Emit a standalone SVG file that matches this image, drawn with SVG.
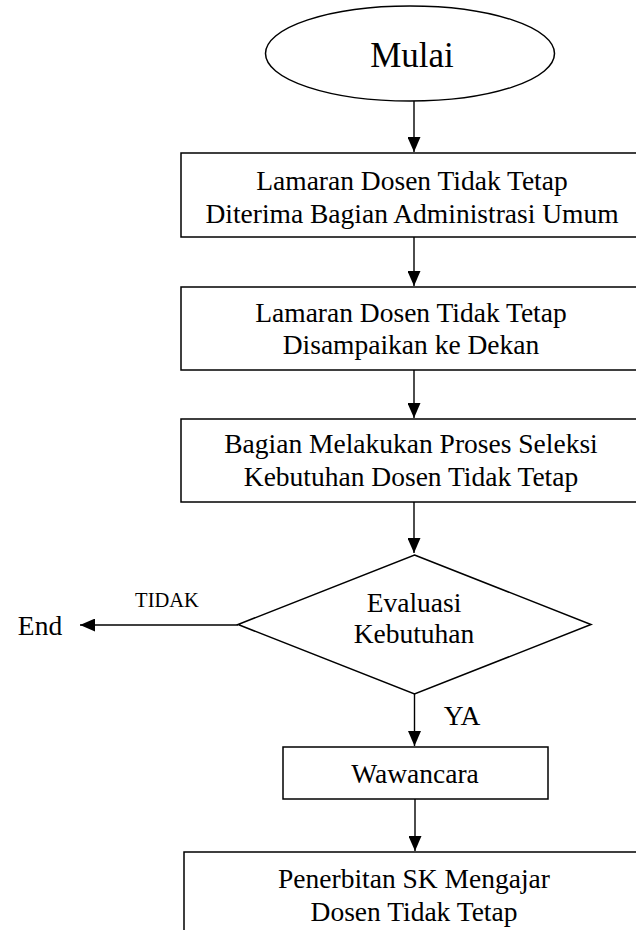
<svg xmlns="http://www.w3.org/2000/svg" width="636" height="930" viewBox="0 0 636 930">
<style>
.shape{fill:#fff;stroke:#000;stroke-width:1.5}
.t{font-family:"Liberation Serif","Times New Roman",serif;font-size:27.5px;fill:#000;text-anchor:middle}
.conn line{stroke:#000;stroke-width:1.4}
</style>
<defs>
<marker id="ah" markerWidth="15" markerHeight="13" refX="15" refY="6.5" viewBox="0 0 15 13" orient="auto" markerUnits="userSpaceOnUse">
<path d="M0,0 L15,6.5 L0,13 Z" fill="#000"/>
</marker>
</defs>
<rect width="636" height="930" fill="#fff"/>
<g id="mulai">
<ellipse class="shape" cx="410" cy="53.5" rx="144.5" ry="47.5"/>
<text class="t" x="412" y="67" style="font-size:35px">Mulai</text>
</g>
<g id="box1">
<rect class="shape" x="181" y="153" width="470" height="84"/>
<text class="t" x="412" y="190">Lamaran Dosen Tidak Tetap</text>
<text class="t" x="412" y="223">Diterima Bagian Administrasi Umum</text>
</g>
<g id="box2">
<rect class="shape" x="181" y="287" width="470" height="83"/>
<text class="t" x="411" y="322">Lamaran Dosen Tidak Tetap</text>
<text class="t" x="411" y="354">Disampaikan ke Dekan</text>
</g>
<g id="box3">
<rect class="shape" x="181" y="419" width="470" height="83"/>
<text class="t" x="411" y="453">Bagian Melakukan Proses Seleksi</text>
<text class="t" x="411" y="486">Kebutuhan Dosen Tidak Tetap</text>
</g>
<g id="evaluasi">
<polygon class="shape" points="414.5,555 591,624.5 414.5,694 238,624.5"/>
<text class="t" x="414" y="612">Evaluasi</text>
<text class="t" x="414" y="643">Kebutuhan</text>
</g>
<g id="end">
<text class="t" x="40" y="635">End</text>
</g>
<g id="wawancara">
<rect class="shape" x="283" y="747" width="265" height="52"/>
<text class="t" x="415" y="783">Wawancara</text>
</g>
<g id="penerbitan">
<rect class="shape" x="184" y="852" width="470" height="90"/>
<text class="t" x="414" y="888">Penerbitan SK Mengajar</text>
<text class="t" x="414" y="921">Dosen Tidak Tetap</text>
</g>
<g id="connectors" class="conn">
<line x1="414" y1="101" x2="414" y2="152" marker-end="url(#ah)"/>
<line x1="414" y1="237" x2="414" y2="286" marker-end="url(#ah)"/>
<line x1="414" y1="370" x2="414" y2="418" marker-end="url(#ah)"/>
<line x1="414" y1="502" x2="414" y2="553" marker-end="url(#ah)"/>
<line x1="238" y1="625" x2="80" y2="625" marker-end="url(#ah)"/>
<line x1="414.5" y1="694" x2="414.5" y2="746" marker-end="url(#ah)"/>
<line x1="415" y1="799" x2="415" y2="851" marker-end="url(#ah)"/>
</g>
<g id="labels">
<text class="t" x="167" y="607" style="font-size:20.5px">TIDAK</text>
<text class="t" x="462" y="725">YA</text>
</g>
</svg>
